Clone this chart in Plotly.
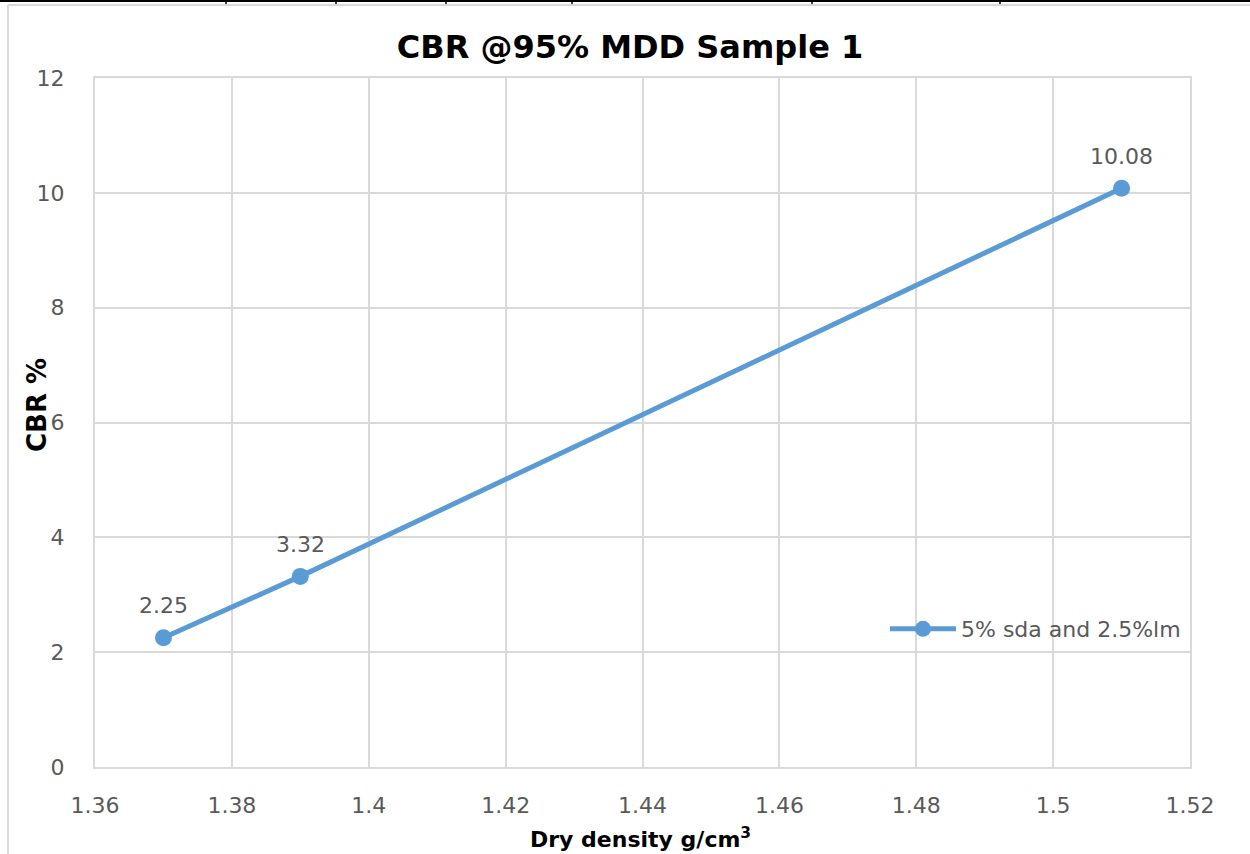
import plotly.graph_objects as go

# Data
dry_density = [1.37, 1.39, 1.51]
cbr_values = [2.25, 3.32, 10.08]
series_name = "5% sda and 2.5%lm"
x_ticks = [1.36, 1.38, 1.40, 1.42, 1.44, 1.46, 1.48, 1.50, 1.52]
x_tick_labels = ["1.36", "1.38", "1.4", "1.42", "1.44", "1.46", "1.48", "1.5", "1.52"]
y_ticks = [0, 2, 4, 6, 8, 10, 12]

W, H = 1250, 854
L, R, T, B = 95, 60, 78, 87
pw, ph = W - L - R, H - T - B

def px_x(p):
    return (p - L) / pw

def px_y(p):
    return (H - B - p) / ph

BLUE = "#5B9BD5"
GRID = "#D9D9D9"
TXT = "#595959"
FONT = "'DejaVu Sans', sans-serif"

fig = go.Figure()
fig.add_trace(go.Scatter(
    x=dry_density, y=cbr_values, mode="lines+markers",
    name=series_name,
    line=dict(color=BLUE, width=5),
    marker=dict(color=BLUE, size=17),
    cliponaxis=False,
))

shapes = []
# top black border line and table ticks
shapes.append(dict(type="line", xref="paper", yref="paper",
                   x0=px_x(0), x1=px_x(W), y0=px_y(1), y1=px_y(1),
                   line=dict(color="black", width=2)))
for tx in [226, 336, 446, 572, 812, 1000]:
    shapes.append(dict(type="line", xref="paper", yref="paper",
                       x0=px_x(tx), x1=px_x(tx), y0=px_y(0), y1=px_y(4),
                       line=dict(color="black", width=1.5)))
# chart frame (light gray)
shapes.append(dict(type="line", xref="paper", yref="paper",
                   x0=px_x(8), x1=px_x(W), y0=px_y(5), y1=px_y(5),
                   line=dict(color="#D9D9D9", width=2)))
shapes.append(dict(type="line", xref="paper", yref="paper",
                   x0=px_x(8), x1=px_x(8), y0=px_y(5), y1=px_y(H),
                   line=dict(color="#D9D9D9", width=2)))

annotations = [
    dict(text="<b>Dry density g/cm<sup>3</sup></b>", xref="paper", yref="paper",
         x=px_x(640), y=px_y(838), xanchor="center", yanchor="middle", showarrow=False,
         font=dict(family=FONT, size=22, color="#000000")),
    dict(text="<b>CBR %</b>", xref="paper", yref="paper", textangle=-90,
         x=px_x(37), y=px_y(405), xanchor="center", yanchor="middle", showarrow=False,
         font=dict(family=FONT, size=26, color="#000000")),
]
# data labels, placed from the data through the axes
for xv, yv in zip(dry_density, cbr_values):
    annotations.append(dict(text=f"{yv:.2f}", x=xv, y=yv, xref="x", yref="y",
                            showarrow=False, yshift=32, xanchor="center", yanchor="middle",
                            font=dict(family=FONT, size=22, color=TXT)))

fig.update_layout(
    width=W, height=H,
    margin=dict(l=L, r=R, t=T, b=B),
    paper_bgcolor="white", plot_bgcolor="white",
    font=dict(family=FONT, color=TXT),
    title=dict(text="<b>CBR @95% MDD Sample 1</b>", x=630 / W, xanchor="center",
               y=1 - 47 / H, yanchor="middle",
               font=dict(family=FONT, size=32, color="#000000")),
    xaxis=dict(
        range=[1.36, 1.52], tickmode="array", tickvals=x_ticks, ticktext=x_tick_labels,
        showgrid=True, gridcolor=GRID, gridwidth=2,
        showline=True, linecolor=GRID, linewidth=2, mirror=True,
        zeroline=False, ticks="", ticklabelstandoff=18,
        tickfont=dict(family=FONT, size=22, color=TXT),
    ),
    yaxis=dict(
        range=[0, 12], tickmode="array", tickvals=y_ticks,
        showgrid=True, gridcolor=GRID, gridwidth=2,
        showline=True, linecolor=GRID, linewidth=2, mirror=True,
        zeroline=False, ticks="", ticklabelstandoff=24,
        tickfont=dict(family=FONT, size=22, color=TXT),
    ),
    legend=dict(x=px_x(885), y=px_y(629), xanchor="left", yanchor="middle",
                bgcolor="rgba(0,0,0,0)", font=dict(family=FONT, size=22, color=TXT),
                itemwidth=66),
    showlegend=True,
    shapes=shapes,
    annotations=annotations,
)

fig.write_html("out.html")
